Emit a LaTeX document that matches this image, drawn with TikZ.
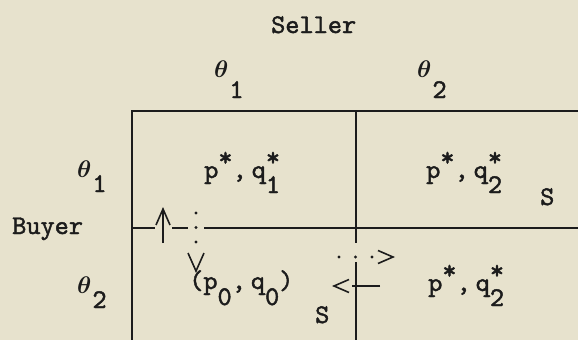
\documentclass[tikz,border=0pt]{standalone}
\usepackage{fix-cm}
\usepackage{bm}
\usepackage{fontspec}
\usetikzlibrary{arrows.meta}

\newfontfamily\typer{lmmono10-regular.otf}[FakeBold=1.6]

\definecolor{paper}{RGB}{231,226,205}
\definecolor{ink}{RGB}{28,28,28}

% theta with a lowered index, typewriter style
\newcommand{\thsub}[2][15pt]{{\fontsize{24}{26}\selectfont$\bm{\theta}$}\kern1pt\raisebox{-#1}{#2}}
% raised star and lowered index stacked on one column
\newcommand{\sbsp}[1]{\rlap{\raisebox{12pt}{*}}\raisebox{-15pt}{#1}}
\newcommand{\pstar}{p\raisebox{12pt}{*}}

\begin{document}
\begin{tikzpicture}[x=1pt, y=-1pt,
    tt/.style={font=\fontsize{27}{30}\typer, text=ink, inner sep=0pt, anchor=base west},
    grid/.style={draw=ink, line width=1.6pt},
    dots/.style={draw=ink, line width=3.2pt, line cap=round}]
    \useasboundingbox (0,0) rectangle (578,340);
    \fill[paper] (0,0) rectangle (578,340);

    % the table
    \draw[grid] (578,111) -- (132,111) -- (132,340);
    \draw[grid] (356,111) -- (356,243);
    \draw[grid] (356,262) -- (356,340);
    \draw[grid] (132,228) -- (155,228);
    \draw[grid] (172,228) -- (188,228);
    \draw[grid] (204,228) -- (578,228);

    % heads
    \node[tt] (seller) at (271,33) {Seller};
    \node[tt] (c1) at (214,77) {\thsub[21pt]{1}};
    \node[tt] (c2) at (417,77) {\thsub[21pt]{2}};
    \node[tt] (buyer) at (12,234) {Buyer};
    \node[tt] (r1) at (77,177) {\thsub{1}};
    \node[tt] (r2) at (77,293) {\thsub{2}};

    % entries
    \node[tt] (a11) at (204,178) {\pstar,\kern5pt q\sbsp{1}};
    \node[tt] (a12) at (426,178) {\pstar,\kern5pt q\sbsp{2}};
    \node[tt] (a21) at (189,289) {(p\raisebox{-16pt}{0},\kern5pt q\raisebox{-16pt}{0})};
    \node[tt] (a22) at (428,291) {\pstar,\kern5pt q\sbsp{2}};
    \node[tt] (s1) at (540,205) {S};
    \node[tt] (s2) at (315,323) {S};

    % moves
    \coordinate (ua) at (163,243);
    \coordinate (ub) at (163,207);
    \coordinate (da) at (196,213);
    \coordinate (db) at (196,273);
    \coordinate (ra) at (339,257);
    \coordinate (rb) at (395,257);
    \coordinate (la) at (380,286);
    \coordinate (lb) at (332,286);
    \draw[grid, -{Straight Barb[length=16pt, width=14pt]}] (ua) -- (ub);
    \draw[dots, dash pattern=on 0pt off 14.5pt on 0pt off 14.5pt on 0pt off 200pt,
          -{Straight Barb[length=18pt, width=16pt, line width=1.6pt]}] (da) -- (db);
    \draw[dots, dash pattern=on 0pt off 16.5pt on 0pt off 16.5pt on 0pt off 200pt,
          -{Straight Barb[length=15pt, width=13pt, line width=1.6pt]}] (ra) -- (rb);
    \draw[grid, dash pattern=on 28pt off 200pt,
          -{Straight Barb[length=15pt, width=13pt]}] (la) -- (lb);
\end{tikzpicture}
\end{document}
